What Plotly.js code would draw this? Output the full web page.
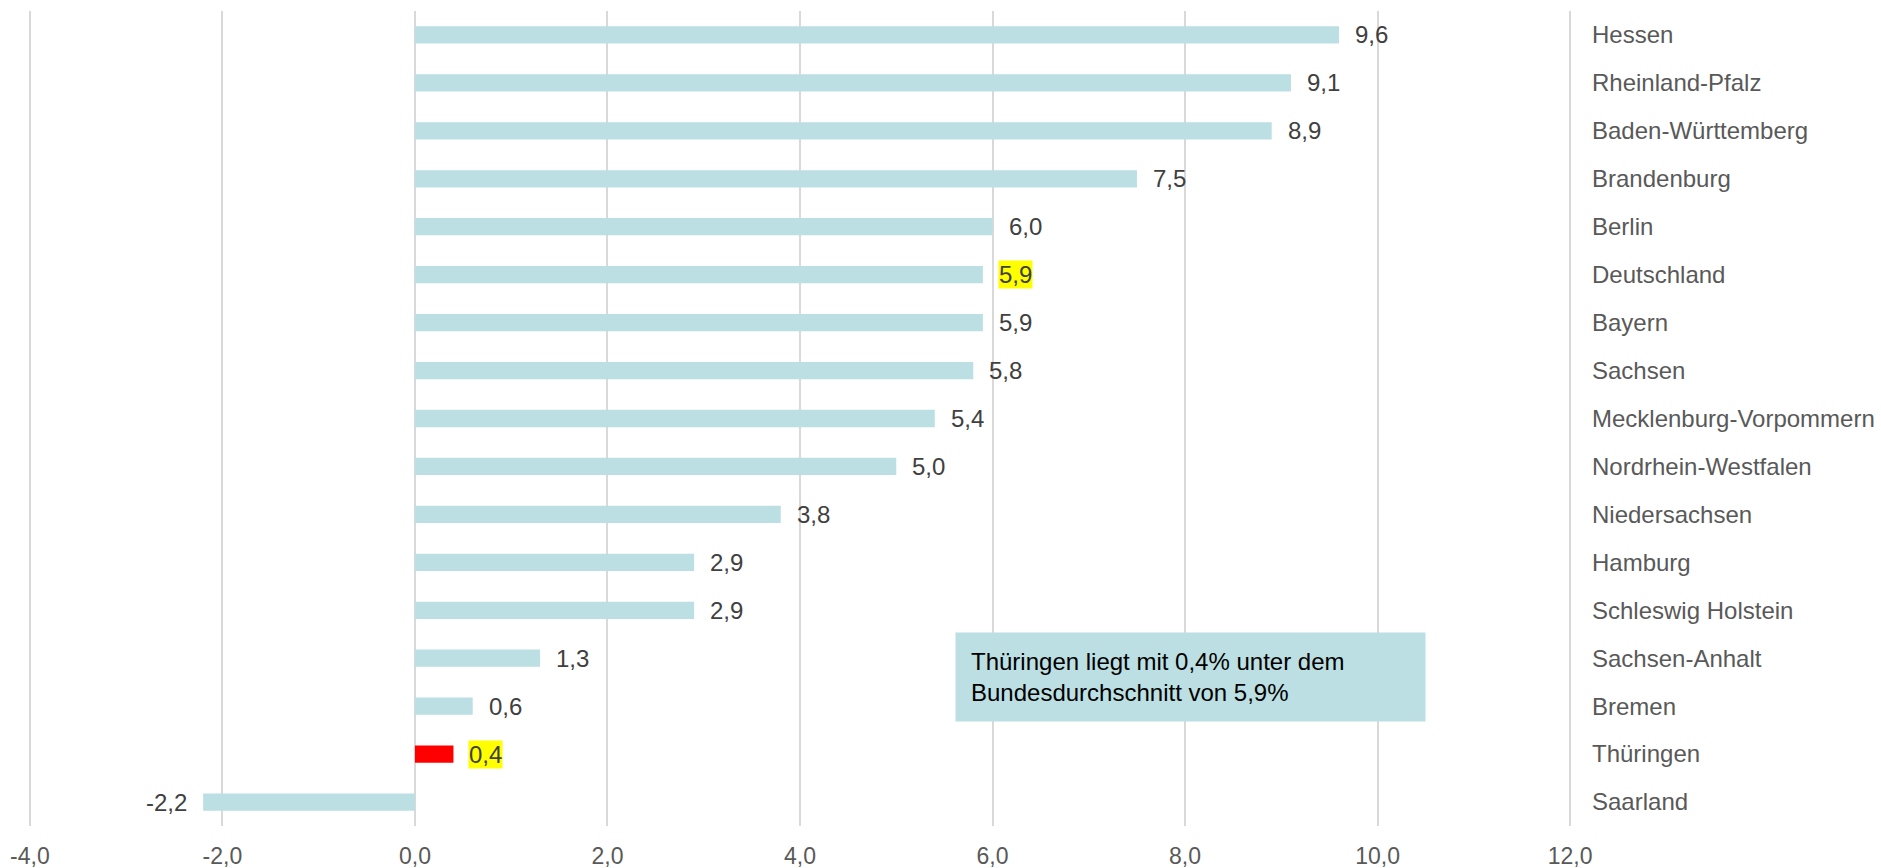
<!DOCTYPE html>
<html>
<head>
<meta charset="utf-8">
<script src="https://cdn.plot.ly/plotly-3.0.1.min.js"></script>
<style>html,body{margin:0;padding:0;background:#fff;}#chart{width:1881px;height:868px;}</style>
</head>
<body>
<div id="chart"></div>
<script>
const states = ["Hessen","Rheinland-Pfalz","Baden-Württemberg","Brandenburg","Berlin","Deutschland","Bayern","Sachsen","Mecklenburg-Vorpommern","Nordrhein-Westfalen","Niedersachsen","Hamburg","Schleswig Holstein","Sachsen-Anhalt","Bremen","Thüringen","Saarland"];
const values = [9.6,9.1,8.9,7.5,6.0,5.9,5.9,5.8,5.4,5.0,3.8,2.9,2.9,1.3,0.6,0.4,-2.2];
const highlighted = ["Deutschland","Thüringen"];
const redState = "Thüringen";
const xTicks = [-4,-2,0,2,4,6,8,10,12];
const noteText = "Thüringen liegt mit 0,4% unter dem<br>Bundesdurchschnitt von 5,9%";

const fmt = v => v.toFixed(1).replace(".", ",");
const TEAL = "#bbdfe2", RED = "#ff0000", FONT = "'Liberation Sans', Arial, sans-serif";
const colors = states.map(s => s === redState ? RED : TEAL);

const trace = {
  type: "bar", orientation: "h", x: values, y: states,
  marker: {color: colors}, hoverinfo: "skip"
};

const valueAnns = states.map((s, i) => {
  const v = values[i];
  const hl = highlighted.includes(s);
  return {
    x: v, y: s, xref: "x", yref: "y",
    text: fmt(v),
    showarrow: false,
    xanchor: v >= 0 ? "left" : "right",
    xshift: v >= 0 ? 15 : -15,
    font: {family: FONT, size: 24, color: "#404040"},
    bgcolor: hl ? "#ffff00" : "rgba(0,0,0,0)",
    borderpad: 0
  };
});

const noteAnn = {
  xref: "paper", yref: "paper", x: 0.7529, y: 0.1824,
  xanchor: "center", yanchor: "middle",
  text: noteText, showarrow: false, align: "left",
  width: 439, borderpad: 15, bgcolor: TEAL,
  font: {family: FONT, size: 24, color: "#000000"}
};

const layout = {
  width: 1881, height: 868,
  margin: {l: 27, r: 308, t: 11, b: 42},
  paper_bgcolor: "#fff", plot_bgcolor: "#fff",
  separators: ",.",
  showlegend: false,
  bargap: 0.64,
  font: {family: FONT, size: 23, color: "#595959"},
  xaxis: {
    range: [-4.03, 12.03], tickvals: xTicks, ticktext: xTicks.map(fmt),
    showgrid: true, gridcolor: "#d9d9d9", gridwidth: 2,
    zeroline: true, zerolinecolor: "#d9d9d9", zerolinewidth: 2,
    showline: false, ticks: "",
    ticklabelstandoff: 14,
    tickfont: {family: FONT, size: 23, color: "#595959"},
    fixedrange: true
  },
  yaxis: {
    type: "category", autorange: "reversed", side: "right",
    showgrid: false, zeroline: false, showline: false, ticks: "",
    ticklabelstandoff: 18,
    tickfont: {family: FONT, size: 24, color: "#595959"},
    fixedrange: true
  },
  annotations: valueAnns.concat([noteAnn])
};

Plotly.newPlot("chart", [trace], layout, {displayModeBar: false, staticPlot: true});
</script>
</body>
</html>
